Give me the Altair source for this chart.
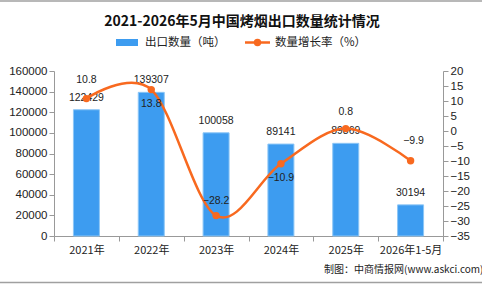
import altair as alt
import pandas as pd

years = ["2021年", "2022年", "2023年", "2024年", "2025年", "2026年1-5月"]
qty = [122429, 139307, 100058, 89141, 89869, 30194]
growth = [10.8, 13.8, -28.2, -10.9, 0.8, -9.9]
label_dy = [-19, 14, -15, 14, -17, -20]
label_dx = [0, 0, 0, 0, 0, 3]

df = pd.DataFrame({"year": years, "qty": qty, "growth": growth})
one = pd.DataFrame({"a": [0]})

BLUE = "#3D9CF0"
ORANGE = "#F8691F"
CJK = "Noto Sans CJK SC"
NUM = "Liberation Sans"

W, H = 389, 165

xenc = alt.X("year:N", sort=years, title=None,
             scale=alt.Scale(paddingInner=0, paddingOuter=0),
             axis=alt.Axis(tickBand="extent", labelAngle=0, domainColor="#999",
                           tickColor="#999", tickSize=5, labelPadding=3,
                           labelFont=CJK, labelFontSize=11, labelColor="#222"))

yleft = alt.Y("qty:Q", title=None,
              scale=alt.Scale(domain=[0, 160000]),
              axis=alt.Axis(orient="left", values=list(range(0, 160001, 20000)),
                            grid=False, domainColor="#999", tickColor="#999",
                            tickSize=5, labelPadding=2, labelFont=NUM,
                            labelFontSize=11.5, labelColor="#222", format="d"))

yright = alt.Y("growth:Q", title=None,
               scale=alt.Scale(domain=[-35, 20]),
               axis=alt.Axis(orient="right", values=list(range(-35, 21, 5)),
                             grid=False, domainColor="#999", tickColor="#999",
                             tickSize=5, labelPadding=2, labelFont=NUM,
                             labelFontSize=11.5, labelColor="#222"))

base = alt.Chart(df)

bars = base.mark_bar(size=26, color=BLUE, stroke="#8CC6F6", strokeWidth=1).encode(
    x=xenc, y=yleft)
bar_labels = base.mark_text(dy=-12, font=NUM, fontSize=10.5, color="#222").encode(
    x=xenc, y=yleft, text=alt.Text("qty:Q", format="d"))
bar_layer = alt.layer(bars, bar_labels)

line = base.mark_line(interpolate="cardinal", color=ORANGE, strokeWidth=2.5).encode(
    x=xenc, y=yright)
pts = base.mark_circle(size=55, color=ORANGE, opacity=1).encode(x=xenc, y=yright)
label_layers = []
for yr, dy, dx in zip(years, label_dy, label_dx):
    label_layers.append(
        base.transform_filter(alt.datum.year == yr)
        .mark_text(font=NUM, fontSize=10.5, color="#222", dy=dy, dx=dx)
        .encode(x=xenc, y=yright, text=alt.Text("growth:Q", format=".1f"))
    )
line_layer = alt.layer(line, pts, *label_layers)

lg = alt.Chart(one)
leg_rect = lg.mark_rect(color=BLUE).encode(
    x=alt.value(62), x2=alt.value(84), y=alt.value(-32), y2=alt.value(-25))
leg_t1 = lg.mark_text(align="left", baseline="middle", font=CJK, fontSize=11.5,
                      color="#222").encode(
    x=alt.value(91), y=alt.value(-28.5), text=alt.value("出口数量（吨）"))
leg_line = lg.mark_rule(color=ORANGE, strokeWidth=2.5).encode(
    x=alt.value(191), x2=alt.value(216), y=alt.value(-28.5))
leg_pt = lg.mark_circle(size=55, color=ORANGE, opacity=1).encode(
    x=alt.value(203.5), y=alt.value(-28.5))
leg_t2 = lg.mark_text(align="left", baseline="middle", font=CJK, fontSize=11.5,
                      color="#222").encode(
    x=alt.value(221), y=alt.value(-28.5), text=alt.value("数量增长率（%）"))
footer = lg.mark_text(align="left", baseline="middle", font=CJK, fontSize=10,
                      color="#222").encode(
    x=alt.value(270), y=alt.value(199), text=alt.value("制图：中商情报网(www.askci.com)"))
top_rule = lg.mark_rule(color="#A0A0A0", strokeWidth=1.5).encode(
    x=alt.value(-54), x2=alt.value(428), y=alt.value(-70))
bot_rule = lg.mark_rule(color="#A0A0A0", strokeWidth=1.5).encode(
    x=alt.value(-54), x2=alt.value(428), y=alt.value(211.5))
title_t = lg.mark_text(align="center", baseline="middle", font=CJK, fontSize=14,
                       fontWeight="bold", color="#111").encode(
    x=alt.value(188), y=alt.value(-49), text=alt.value("2021-2026年5月中国烤烟出口数量统计情况"))

chart = alt.layer(
    bar_layer, line_layer,
    leg_rect, leg_t1, leg_line, leg_pt, leg_t2, footer, top_rule, bot_rule, title_t
).resolve_scale(y="independent").properties(
    width=W, height=H,
    autosize=alt.AutoSizeParams(type="none"),
    padding={"left": 54, "top": 71, "right": 39, "bottom": 48},
    background="white",
).configure_view(stroke=None)

chart.save("out.html", embed_options={"renderer": "svg", "actions": False})
